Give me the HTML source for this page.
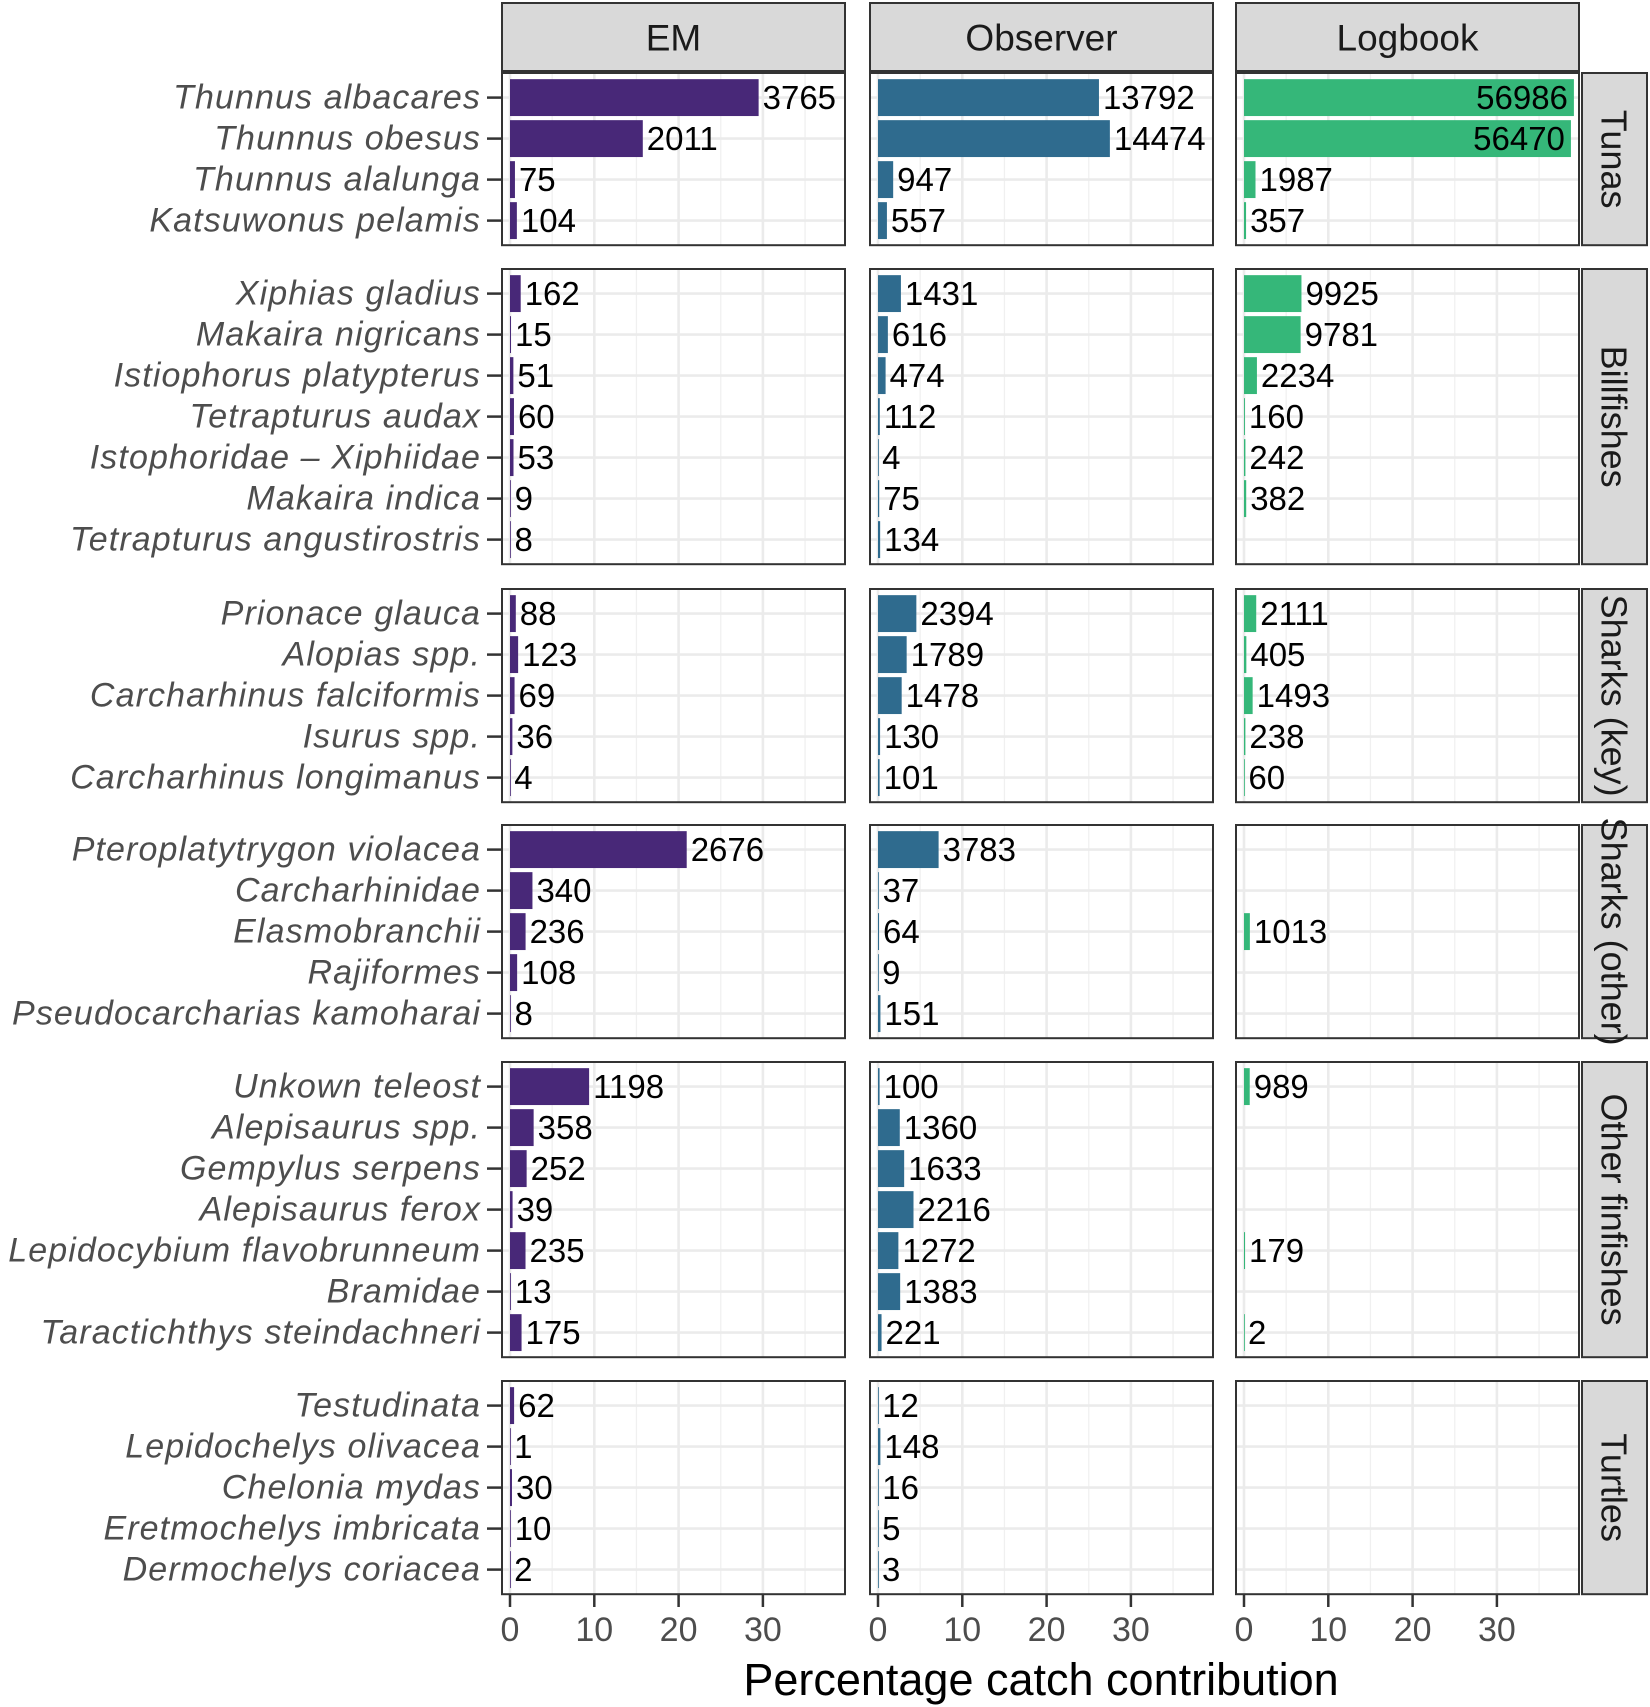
<!DOCTYPE html>
<html><head><meta charset="utf-8"><style>
html,body{margin:0;padding:0;background:#fff;}
svg{display:block;font-family:"Liberation Sans",Arial,sans-serif;}
</style></head><body>
<svg id="chart" width="1650" height="1707" viewBox="0 0 1650 1707" xmlns="http://www.w3.org/2000/svg"></svg>
<script>
// ---- data ----
const sources = ["EM", "Observer", "Logbook"];
const groups = ["Tunas", "Billfishes", "Sharks (key)", "Sharks (other)", "Other finfishes", "Turtles"];
const speciesTunas = ["Thunnus albacares","Thunnus obesus","Thunnus alalunga","Katsuwonus pelamis"];
const speciesBillfishes = ["Xiphias gladius","Makaira nigricans","Istiophorus platypterus","Tetrapturus audax","Istophoridae \u2013 Xiphiidae","Makaira indica","Tetrapturus angustirostris"];
const speciesSharksKey = ["Prionace glauca","Alopias spp.","Carcharhinus falciformis","Isurus spp.","Carcharhinus longimanus"];
const speciesSharksOther = ["Pteroplatytrygon violacea","Carcharhinidae","Elasmobranchii","Rajiformes","Pseudocarcharias kamoharai"];
const speciesFinfish = ["Unkown teleost","Alepisaurus spp.","Gempylus serpens","Alepisaurus ferox","Lepidocybium flavobrunneum","Bramidae","Taractichthys steindachneri"];
const speciesTurtles = ["Testudinata","Lepidochelys olivacea","Chelonia mydas","Eretmochelys imbricata","Dermochelys coriacea"];
// counts per source (null = absent)
const emCounts = [[3765,2011,75,104],[162,15,51,60,53,9,8],[88,123,69,36,4],[2676,340,236,108,8],[1198,358,252,39,235,13,175],[62,1,30,10,2]];
const obsCounts = [[13792,14474,947,557],[1431,616,474,112,4,75,134],[2394,1789,1478,130,101],[3783,37,64,9,151],[100,1360,1633,2216,1272,1383,221],[12,148,16,5,3]];
const logCounts = [[56986,56470,1987,357],[9925,9781,2234,160,242,382,null],[2111,405,1493,238,60],[null,null,1013,null,null],[989,null,null,null,179,null,2],[null,null,null,null,null]];
// estimated catch of species not shown (part of each source's total)
const otherCounts = [390, 1700, 600];
const xTicks = [0,10,20,30];

// ---- layout ----
const species = [speciesTunas,speciesBillfishes,speciesSharksKey,speciesSharksOther,speciesFinfish,speciesTurtles];
const counts = [emCounts,obsCounts,logCounts];
const colors = ["#482878","#2f6b8e","#35b779"];
const colX = [502,870,1236];
const panelW = 343;
const rowTops = [73,269,589,825,1062,1381];
const unit = 41;
const pxPerPct = 8.43;
const zeroOff = 8;
const NS = "http://www.w3.org/2000/svg";
const svg = document.getElementById("chart");
function el(tag, attrs, parent){
  const e = document.createElementNS(NS, tag);
  for (const k in attrs) e.setAttribute(k, attrs[k]);
  (parent||svg).appendChild(e);
  return e;
}
function xScale(c, v){ return colX[c] + zeroOff + v*pxPerPct; }
function yScale(g, i){ return rowTops[g] + (0.6 + i)*unit; }
function panelH(g){ return (species[g].length + 0.2)*unit; }

const totals = counts.map((src,c) => src.flat().reduce((a,b)=>a+(b||0),0) + otherCounts[c]);

// top strips
sources.forEach((s,c)=>{
  const g = el("g",{});
  
  
  el("rect",{x:colX[c],y:3,width:panelW,height:68,fill:"#d9d9d9",stroke:"#333",'stroke-width':2},g);
  const t = el("text",{x:colX[c]+panelW/2,y:38,'text-anchor':"middle",'dominant-baseline':"central",'font-size':37,fill:"#1a1a1a"},g);
  t.textContent = s;
});

groups.forEach((grp,gi)=>{
  const top = rowTops[gi], H = panelH(gi), n = species[gi].length;
  const sg = el("g",{});
  
  
  el("rect",{x:1582,y:top,width:65,height:H,fill:"#d9d9d9",stroke:"#333",'stroke-width':2},sg);
  const st = el("text",{x:1614,y:top+H/2,'text-anchor':"middle",'dominant-baseline':"central",'font-size':36,fill:"#1a1a1a",transform:`rotate(90 1614 ${top+H/2})`},sg);
  st.textContent = grp;
  species[gi].forEach((sp,i)=>{
    const y = yScale(gi,i);
    const t = el("text",{x:481,y:y,'text-anchor':"end",'dominant-baseline':"central",'font-size':34,'letter-spacing':1.1,'font-style':"italic",fill:"#4d4d4d"});
    
    
    t.textContent = sp;
    el("line",{x1:487,x2:501,y1:y,y2:y,stroke:"#333",'stroke-width':2.5});
  });
  sources.forEach((s,c)=>{
    const pg = el("g",{});
    
    
    el("rect",{x:colX[c],y:top,width:panelW,height:H,fill:"#fff"},pg);
    [5,15,25,35].forEach(v=>el("line",{x1:xScale(c,v),x2:xScale(c,v),y1:top,y2:top+H,stroke:"#f0f0f0",'stroke-width':1.3},pg));
    xTicks.forEach(v=>el("line",{x1:xScale(c,v),x2:xScale(c,v),y1:top,y2:top+H,stroke:"#ebebeb",'stroke-width':2.6},pg));
    for(let i=0;i<n;i++){const y=yScale(gi,i);el("line",{x1:colX[c],x2:colX[c]+panelW,y1:y,y2:y,stroke:"#ebebeb",'stroke-width':2.6},pg);}
    counts[c][gi].forEach((v,i)=>{
      if(v===null||v===undefined) return;
      const pct = v/totals[c]*100;
      const y = yScale(gi,i);
      const x0 = xScale(c,0), x1 = xScale(c,pct);
      const b = el("rect",{x:x0,y:y-unit*0.45,width:Math.max(x1-x0,0.8),height:unit*0.9,fill:colors[c]},pg);
      
      
      const inside = pct > 35;
      const t = el("text",{x: inside ? x1-6 : x1+4, y:y,'text-anchor': inside?"end":"start",'dominant-baseline':"central",'font-size':33,fill:"#000"},pg);
      
      
      t.textContent = v;
    });
    el("rect",{x:colX[c],y:top,width:panelW,height:H,fill:"none",stroke:"#333",'stroke-width':2},pg);
  });
});

sources.forEach((s,c)=>{
  xTicks.forEach(v=>{
    const x = xScale(c,v);
    el("line",{x1:x,x2:x,y1:1595,y2:1607,stroke:"#333",'stroke-width':2.5});
    const t = el("text",{x:x,y:1630,'text-anchor':"middle",'dominant-baseline':"central",'font-size':34,fill:"#4d4d4d"});
    
    
    t.textContent = v;
  });
});
const xt = el("text",{x:1041,y:1695,'text-anchor':"middle",'font-size':45,fill:"#000"});


xt.textContent = "Percentage catch contribution";
</script>
</body></html>
